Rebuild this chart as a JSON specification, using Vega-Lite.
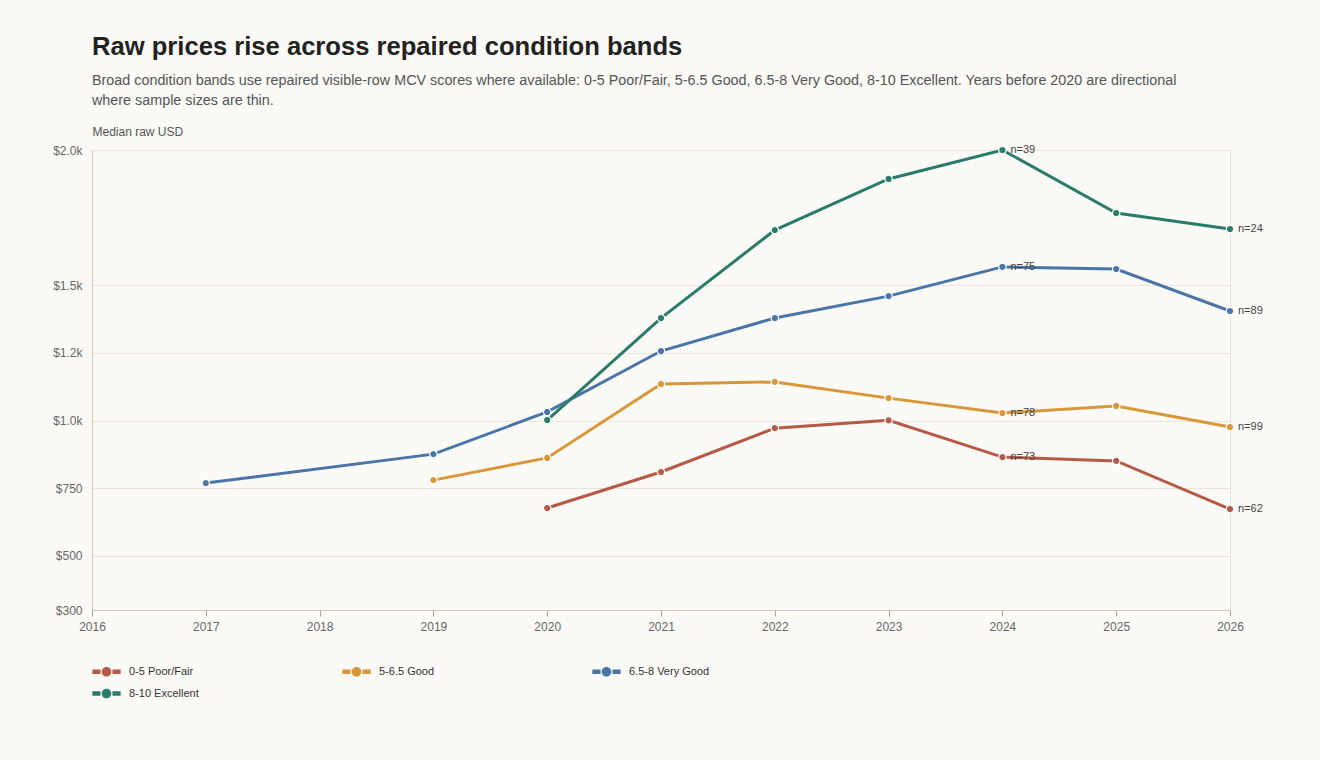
{
  "$schema": "https://vega.github.io/schema/vega-lite/v6.json",
  "width": 1138,
  "height": 460,
  "autosize": "none",
  "padding": {"left": 92, "top": 150, "right": 90, "bottom": 150},
  "background": "#fbfaf6",
  "title": {
    "text": "Raw prices rise across repaired condition bands",
    "subtitle": [
      "Broad condition bands use repaired visible-row MCV scores where available: 0-5 Poor/Fair, 5-6.5 Good, 6.5-8 Very Good, 8-10 Excellent. Years before 2020 are directional",
      "where sample sizes are thin."
    ],
    "anchor": "start",
    "frame": "group",
    "offset": 17,
    "font": "Liberation Sans",
    "fontSize": 25.6,
    "fontWeight": "bold",
    "color": "#222222",
    "subtitleFont": "Liberation Sans",
    "subtitleFontSize": 14.35,
    "subtitleColor": "#555555",
    "subtitleLineHeight": 20,
    "subtitlePadding": 13
  },
  "config": {
    "font": "Liberation Sans",
    "view": {"stroke": "#e6ded2"},
    "axis": {
      "labelFont": "Liberation Sans",
      "labelFontSize": 12,
      "labelColor": "#666666",
      "domainColor": "#d6cbbb",
      "tickColor": "#a89f92",
      "gridColor": "#ebe4d8"
    }
  },
  "data": {
    "values": [
      {"year": 2020, "band": "0-5 Poor/Fair", "price": 677},
      {"year": 2021, "band": "0-5 Poor/Fair", "price": 810},
      {"year": 2022, "band": "0-5 Poor/Fair", "price": 972},
      {"year": 2023, "band": "0-5 Poor/Fair", "price": 1001},
      {"year": 2024, "band": "0-5 Poor/Fair", "price": 865, "n": "n=73"},
      {"year": 2025, "band": "0-5 Poor/Fair", "price": 851},
      {"year": 2026, "band": "0-5 Poor/Fair", "price": 673, "n": "n=62"},
      {"year": 2019, "band": "5-6.5 Good", "price": 780},
      {"year": 2020, "band": "5-6.5 Good", "price": 862},
      {"year": 2021, "band": "5-6.5 Good", "price": 1135},
      {"year": 2022, "band": "5-6.5 Good", "price": 1143},
      {"year": 2023, "band": "5-6.5 Good", "price": 1083},
      {"year": 2024, "band": "5-6.5 Good", "price": 1028, "n": "n=78"},
      {"year": 2025, "band": "5-6.5 Good", "price": 1054},
      {"year": 2026, "band": "5-6.5 Good", "price": 976, "n": "n=99"},
      {"year": 2017, "band": "6.5-8 Very Good", "price": 769},
      {"year": 2019, "band": "6.5-8 Very Good", "price": 876},
      {"year": 2020, "band": "6.5-8 Very Good", "price": 1032},
      {"year": 2021, "band": "6.5-8 Very Good", "price": 1257},
      {"year": 2022, "band": "6.5-8 Very Good", "price": 1379},
      {"year": 2023, "band": "6.5-8 Very Good", "price": 1460},
      {"year": 2024, "band": "6.5-8 Very Good", "price": 1568, "n": "n=75"},
      {"year": 2025, "band": "6.5-8 Very Good", "price": 1560},
      {"year": 2026, "band": "6.5-8 Very Good", "price": 1405, "n": "n=89"},
      {"year": 2020, "band": "8-10 Excellent", "price": 1002},
      {"year": 2021, "band": "8-10 Excellent", "price": 1379},
      {"year": 2022, "band": "8-10 Excellent", "price": 1704},
      {"year": 2023, "band": "8-10 Excellent", "price": 1893},
      {"year": 2024, "band": "8-10 Excellent", "price": 2000, "n": "n=39"},
      {"year": 2025, "band": "8-10 Excellent", "price": 1767},
      {"year": 2026, "band": "8-10 Excellent", "price": 1708, "n": "n=24"}
    ]
  },
  "encoding": {
    "x": {
      "field": "year",
      "type": "quantitative",
      "scale": {"domain": [2016, 2026], "nice": false, "zero": false},
      "axis": {
        "title": null,
        "format": "d",
        "values": [2016, 2017, 2018, 2019, 2020, 2021, 2022, 2023, 2024, 2025, 2026],
        "grid": false,
        "labelFlush": false,
        "tickSize": 6,
        "labelPadding": 5
      }
    },
    "y": {
      "field": "price",
      "type": "quantitative",
      "scale": {"domain": [300, 2000], "nice": false, "zero": false},
      "axis": {
        "title": "Median raw USD",
        "titleAngle": 0,
        "titleX": 0,
        "titleY": -12,
        "titleAlign": "left",
        "titleBaseline": "bottom",
        "titleFont": "Liberation Sans",
        "titleFontSize": 12,
        "titleFontWeight": "normal",
        "titleColor": "#555555",
        "values": [300, 500, 750, 1000, 1250, 1500, 2000],
        "labelExpr": "datum.value == 1250 ? '$1.2k' : datum.value >= 1000 ? '$' + format(datum.value / 1000, '.1f') + 'k' : '$' + datum.value",
        "ticks": false,
        "labelPadding": 10
      }
    },
    "color": {
      "field": "band",
      "type": "nominal",
      "scale": {
        "domain": ["0-5 Poor/Fair", "5-6.5 Good", "6.5-8 Very Good", "8-10 Excellent"],
        "range": ["#b65a48", "#d9973a", "#4a75a8", "#2a7b6b"]
      },
      "legend": {
        "title": null,
        "orient": "none",
        "direction": "horizontal",
        "legendX": 0,
        "legendY": 507,
        "columns": 3,
        "gridAlign": "all",
        "columnPadding": 132,
        "rowPadding": 2,
        "symbolType": "M-1,-0.16 L-0.42,-0.16 L-0.42,0.16 L-1,0.16 Z M0.42,-0.16 L1,-0.16 L1,0.16 L0.42,0.16 Z M0.34,0 A0.34,0.34 0 1,1 -0.34,0 A0.34,0.34 0 1,1 0.34,0 Z",
        "symbolSize": 800,
        "symbolStrokeWidth": 0,
        "symbolOpacity": 1,
        "labelFont": "Liberation Sans",
        "labelFontSize": 11,
        "labelColor": "#333333",
        "labelOffset": 8
      }
    }
  },
  "layer": [
    {
      "mark": {"type": "line", "strokeWidth": 3}
    },
    {
      "mark": {"type": "point", "filled": true, "size": 55, "stroke": "white", "strokeWidth": 1.2, "opacity": 1}
    },
    {
      "transform": [{"filter": "datum.n != null"}],
      "mark": {"type": "text", "align": "left", "baseline": "middle", "dx": 8, "fontSize": 11, "font": "Liberation Sans", "color": "#444444"},
      "encoding": {"text": {"field": "n"}, "color": {"value": "#444444"}}
    }
  ]
}
